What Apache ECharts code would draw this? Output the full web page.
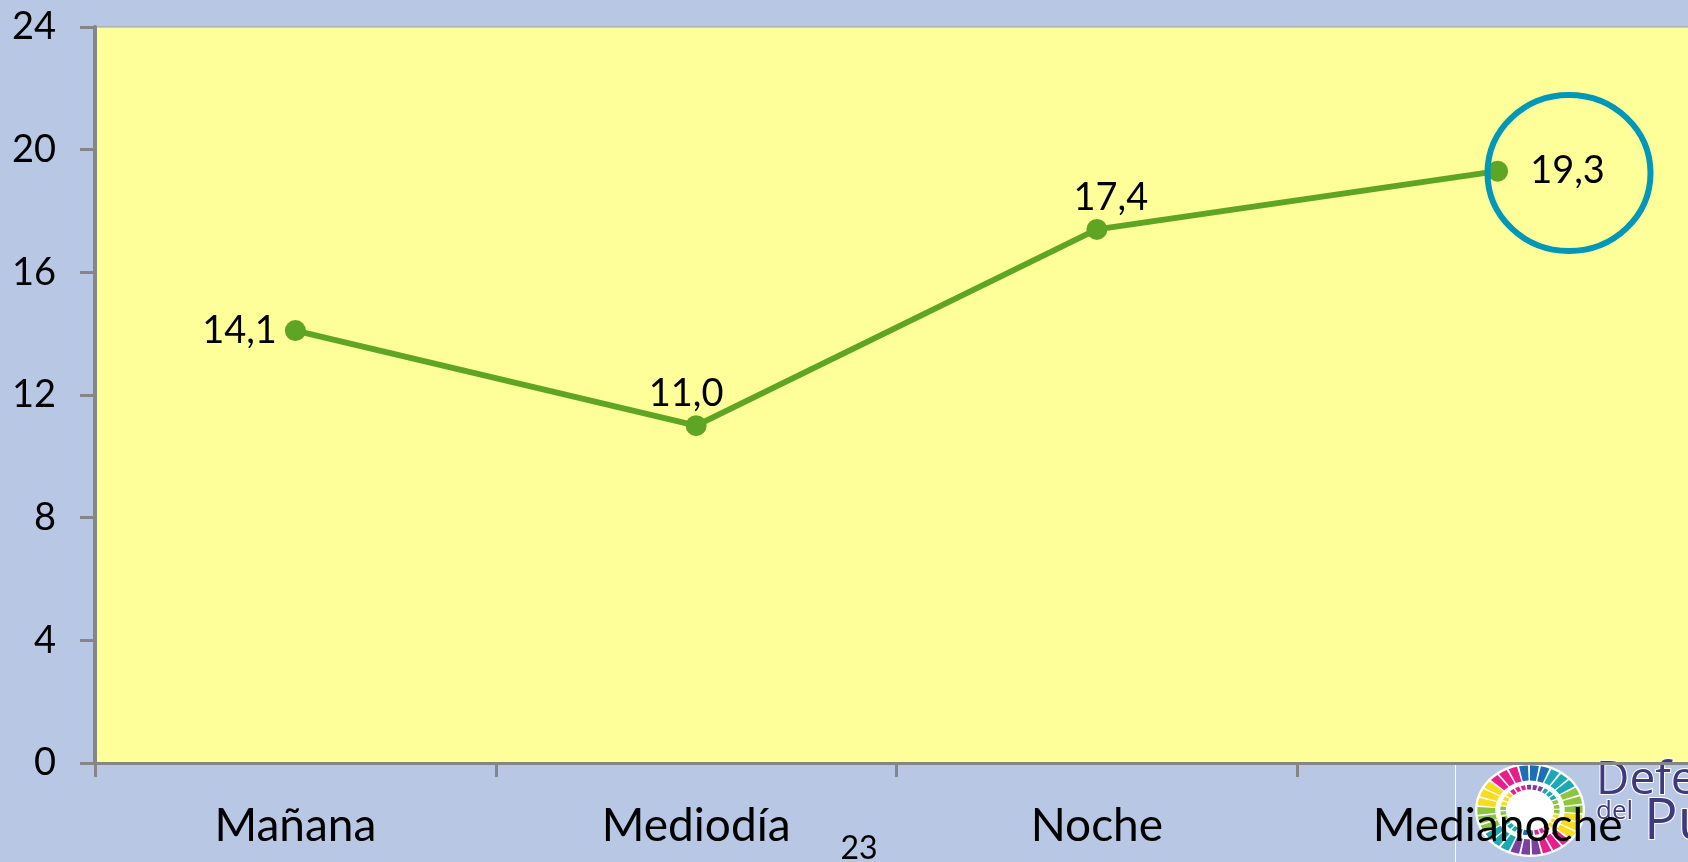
<!DOCTYPE html>
<html>
<head>
<meta charset="utf-8">
<style>
html,body{margin:0;padding:0;background:#b8c7e4;}
#main{width:1688px;height:862px;}
</style>
<script src="https://cdn.jsdelivr.net/npm/echarts@6/dist/echarts.min.js"></script>
</head>
<body>
<div id="main"></div>
<script>
var categorias = ['Mañana', 'Mediodía', 'Noche', 'Medianoche'];
var valores = [14.1, 11.0, 17.4, 19.3];
var posEtiquetas = ['left', 'top', 'top', 'right'];
var despEtiquetas = [[0, 0], [-10, 0], [14, 0], [0, 0]];
var distEtiquetas = [8, 2, 2, 22];
var coloresLogo = ['#1b6fb5', '#19a9b5', '#8cc63f', '#f9dc1c', '#e91e8c', '#7b3fa0', '#19a9b5', '#8cc63f', '#f9dc1c', '#e91e8c'];

var fuente = 'Lato';
var gris = '#868686';

// roseta del logo, cada petalo es un arco de color
var petalos = [];
for (var i = 0; i < 30; i++) {
    var ini = -Math.PI / 2 + (i - 1) / 30 * Math.PI * 2;
    var col = coloresLogo[Math.floor(i / 3)];
    petalos.push({
        type: 'arc', z: 3,
        shape: {r: 39, startAngle: ini, endAngle: ini + 0.17},
        style: {fill: 'none', stroke: col, lineWidth: 16}
    });
    petalos.push({
        type: 'arc', z: 3,
        shape: {r: 24, startAngle: ini + 0.1, endAngle: ini + 0.25},
        style: {fill: 'none', stroke: coloresLogo[(Math.floor(i / 3) + 5) % 10], lineWidth: 5}
    });
}

var myChart = echarts.init(document.getElementById('main'));
var option = {
    backgroundColor: '#b8c7e4',
    animation: false,
    grid: {
        left: 95, top: 27, height: 736, width: 1603,
        outerBoundsMode: 'none',
        show: true,
        backgroundColor: '#ffff99',
        borderColor: '#a0a0a0',
        borderWidth: 1
    },
    xAxis: {
        type: 'category',
        data: categorias,
        z: 10,
        axisLine: {lineStyle: {color: gris, width: 3}},
        axisTick: {show: true, alignWithLabel: false, length: 14, lineStyle: {color: gris, width: 3}},
        axisLabel: {color: '#000', fontFamily: fuente, fontSize: 46, margin: 40, interval: 0}
    },
    yAxis: {
        type: 'value',
        min: 0,
        max: 24,
        interval: 4,
        splitLine: {show: false},
        axisLine: {show: true, lineStyle: {color: gris, width: 4}},
        axisTick: {show: true, length: 15, lineStyle: {color: gris, width: 3}},
        axisLabel: {color: '#000', fontFamily: fuente, fontSize: 38, margin: 39}
    },
    series: [{
        type: 'line',
        data: valores.map(function (v, i) {
            return {
                value: v,
                label: {position: posEtiquetas[i], distance: distEtiquetas[i], offset: despEtiquetas[i]}
            };
        }),
        symbol: 'circle',
        symbolSize: 21,
        z: 5,
        lineStyle: {color: '#5fa524', width: 6},
        itemStyle: {color: '#5fa524'},
        label: {
            show: true,
            color: '#000',
            fontFamily: fuente,
            fontSize: 38,
            formatter: function (p) {
                return p.value.toFixed(1).replace('.', ',');
            }
        }
    }],
    graphic: [
        {type: 'ellipse', z: 20, shape: {cx: 1569, cy: 173, rx: 81.5, ry: 78},
            style: {fill: 'none', stroke: '#0097b9', lineWidth: 6}},
        {type: 'line', z: 1, shape: {x1: 1455.5, y1: 764, x2: 1455.5, y2: 862},
            style: {stroke: '#ffffff', lineWidth: 1}},
        {type: 'ellipse', z: 1, shape: {cx: 1530, cy: 810, rx: 55, ry: 47}, style: {fill: '#ffffff'}},
        {type: 'group', x: 1530, y: 810, scaleX: 1.12, scaleY: 0.95, children: petalos},
        {type: 'text', z: 2, x: 1596, y: 781, style: {text: 'Defe', fill: '#3f3a80', font: '400 46px "Open Sans"', verticalAlign: 'middle', stroke: '#fff', lineWidth: 2}},
        {type: 'text', z: 2, x: 1596, y: 812, style: {text: 'del', fill: '#3f3a80', font: '400 26px "Open Sans"', verticalAlign: 'middle', stroke: '#fff', lineWidth: 2}},
        {type: 'text', z: 2, x: 1644, y: 823, style: {text: 'Pú', fill: '#3f3a80', font: '400 56px "Open Sans"', verticalAlign: 'middle', stroke: '#fff', lineWidth: 2}},
        {type: 'text', z: 20, x: 859, y: 849, style: {text: '23', fill: '#000', font: '32px Lato', align: 'center', verticalAlign: 'middle'}}
    ]
};
myChart.setOption(option);
</script>
</body>
</html>
